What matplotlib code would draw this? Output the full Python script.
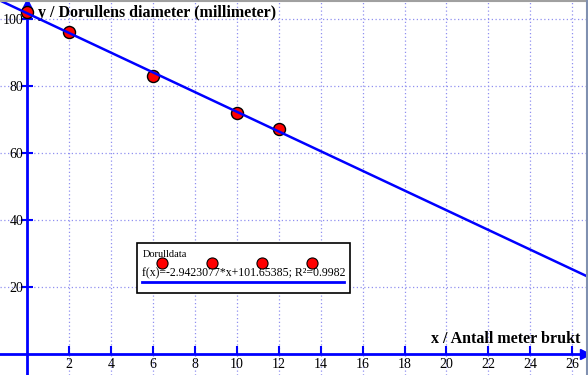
import matplotlib
matplotlib.use("Agg")
import matplotlib.pyplot as plt
from matplotlib.lines import Line2D
import numpy as np

# data: meters used vs. roll diameter
x_vals = [0, 2, 6, 10, 12]
y_vals = [102, 96, 83, 72, 67]
slope = -2.9423077
intercept = 101.65385
x_ticks = list(range(2, 27, 2))
y_ticks = [20, 40, 60, 80, 100]
legend_title = "Dorulldata"
legend_text = "f(x)=-2.9423077*x+101.65385; R²=0.9982"

BLUE = "#0000ff"
SERIF = ["Liberation Serif", "DejaVu Serif"]

fig = plt.figure(figsize=(5.88, 3.75), dpi=100)
ax = fig.add_axes([0, 0, 1, 1])
ax.set_xlim(-1.29, 26.75)
ax.set_ylim(-6.4, 105.6)

# grid
for xt in x_ticks:
    ax.axvline(xt, color="#9090f0", lw=0.9, ls=(0, (1, 2)), zorder=0)
for yt in y_ticks:
    ax.axhline(yt, color="#9090f0", lw=0.9, ls=(0, (1, 2)), zorder=0)

# axes through origin
for side in ["top", "right"]:
    ax.spines[side].set_visible(False)
ax.spines["left"].set_position(("data", 0))
ax.spines["bottom"].set_position(("data", 0))
for side in ["left", "bottom"]:
    ax.spines[side].set_color(BLUE)
    ax.spines[side].set_linewidth(2)
ax.set_xticks(x_ticks)
ax.set_yticks(y_ticks)
ax.tick_params(axis="x", direction="in", length=6, width=1.5, color=BLUE,
               labelsize=10, pad=3)
ax.tick_params(axis="y", direction="inout", length=9, width=1.5, color=BLUE,
               labelsize=10, pad=-2)
for lab in ax.get_xticklabels() + ax.get_yticklabels():
    lab.set_family(SERIF)
# arrow heads
ax.plot(0.995, 0, ">", color=BLUE, ms=7, transform=ax.get_yaxis_transform(), clip_on=False)
ax.plot(0, 0.99, "^", color=BLUE, ms=7, transform=ax.get_xaxis_transform(), clip_on=False)

# data points
ax.scatter(x_vals, y_vals, s=75, color="#ff0000", edgecolor="black", lw=1, zorder=3)

# regression line
xl = np.array(ax.get_xlim())
ax.plot(xl, slope * xl + intercept, color=BLUE, lw=1.8, zorder=4)

# axis labels
ax.text(0.065, 0.965, "y / Dorullens diameter (millimeter)", transform=ax.transAxes,
        family=SERIF, fontweight="bold", fontsize=11.5, va="center", ha="left")
ax.text(0.987, 0.095, "x / Antall meter brukt", transform=ax.transAxes,
        family=SERIF, fontweight="bold", fontsize=11.5, va="center", ha="right")

# legend box
box = plt.Rectangle((0.233, 0.218), 0.363, 0.134, transform=ax.transAxes,
                    facecolor="white", edgecolor="black", lw=1.2, zorder=5)
ax.add_patch(box)
ax.text(0.242, 0.322, legend_title, transform=ax.transAxes, family=SERIF,
        fontsize=7.5, va="center", zorder=6)
ax.text(0.242, 0.27, legend_text, transform=ax.transAxes, family=SERIF,
        fontsize=8.5, va="center", zorder=6)
ax.plot([0.242, 0.585], [0.248, 0.248], color=BLUE, lw=2, transform=ax.transAxes, zorder=6)
for lx in [0.276, 0.36, 0.445, 0.53]:
    ax.plot(lx, 0.30, "o", ms=8, mfc="#ff0000", mec="black", mew=0.8,
            transform=ax.transAxes, zorder=7)

# image border (top and right)
fig.add_artist(Line2D([0, 1], [0.998, 0.998], color="#a0a0a0", lw=1.5, transform=fig.transFigure))
fig.add_artist(Line2D([0.998, 0.998], [0, 1], color="#8090b0", lw=1.5, transform=fig.transFigure))

fig.savefig("out.png", dpi=100)
